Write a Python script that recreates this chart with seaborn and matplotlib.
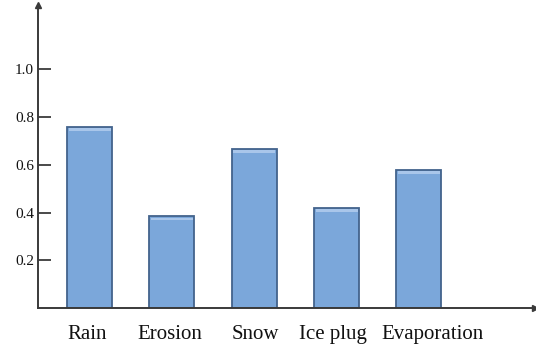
import matplotlib
matplotlib.use("Agg")
import matplotlib.pyplot as plt
import matplotlib.transforms as mtransforms
import seaborn as sns
import pandas as pd

# --- data ---
categories = ["Rain", "Erosion", "Snow", "Ice plug", "Evaporation"]
values = [0.76, 0.385, 0.668, 0.42, 0.58]
y_ticks = [0.2, 0.4, 0.6, 0.8, 1.0]
# horizontal nudge of each category label (pixels), as placed in the reference
label_shift_px = [-2, -2, 1, -4, 14]

BAR_COLOR = "#7ba7da"
EDGE_COLOR = "#43638c"
AXIS_COLOR = "#3a3a3a"

sns.set_theme(style="white")
plt.rcParams["font.family"] = ["Liberation Serif", "DejaVu Serif"]

df = pd.DataFrame({"cause": categories, "value": values})

fig = plt.figure(figsize=(5.36, 3.48), dpi=100)
ax = fig.add_axes([0.071, 0.115, 0.927, 0.871])

sns.barplot(data=df, x="cause", y="value", color=BAR_COLOR, width=0.55,
            edgecolor=EDGE_COLOR, linewidth=1.3, saturation=1, ax=ax)

ax.set_xlim(-0.625, 5.41)
ax.set_ylim(0, 1.27)
ax.set_yticks(y_ticks)
ax.set_yticklabels([f"{t:.1f}" for t in y_ticks], fontsize=11, color="#111111")
ax.tick_params(axis="y", direction="in", length=9, width=1.3, color=AXIS_COLOR,
               pad=3, left=True)
ax.tick_params(axis="x", length=0, pad=12, labelsize=15, labelcolor="#111111")
ax.set_xlabel("")
ax.set_ylabel("")

for lbl, dx in zip(ax.get_xticklabels(), label_shift_px):
    lbl.set_transform(lbl.get_transform() +
                      mtransforms.ScaledTranslation(dx / 100, 0, fig.dpi_scale_trans))

for side in ["top", "right"]:
    ax.spines[side].set_visible(False)
for side in ["left", "bottom"]:
    ax.spines[side].set_color(AXIS_COLOR)
    ax.spines[side].set_linewidth(1.4)

# arrow heads at the axis ends
ax.plot(1, 0, ">", color=AXIS_COLOR, markersize=4.5, transform=ax.transAxes, clip_on=False)
ax.plot(0, 1, "^", color=AXIS_COLOR, markersize=4.5, transform=ax.transAxes, clip_on=False)

# light bevel strip on top of every bar
for p in ax.patches:
    ax.add_patch(plt.Rectangle((p.get_x() + 0.02, p.get_height() - 0.018),
                               p.get_width() - 0.04, 0.012,
                               color="#a9c6ea", lw=0, zorder=p.get_zorder() + 1))

fig.savefig("out.png", dpi=100)
